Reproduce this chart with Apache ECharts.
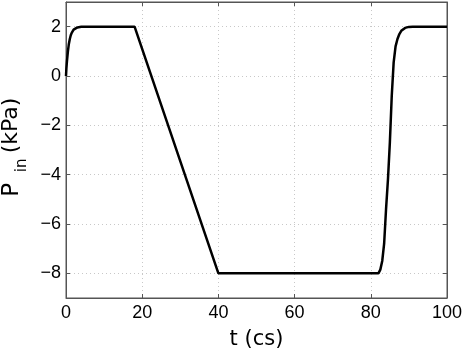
<!DOCTYPE html>
<html><head><meta charset="utf-8">
<script src="https://cdn.jsdelivr.net/npm/echarts@6/dist/echarts.min.js"></script>
<style>html,body{margin:0;padding:0;background:#fff}#c{width:464px;height:349px}</style>
</head><body><div id="c"></div>
<script>
var tData = [0, 0.1, 0.25, 0.5, 0.75, 1.0, 1.25, 1.5, 2, 2.5, 3, 3.5, 4, 5, 18, 40, 82, 82.5, 83, 83.5, 84, 84.5, 85, 85.5, 86, 86.5, 87, 87.5, 88, 88.5, 89, 89.5, 90, 91, 93, 100];
var pData = [0, 0.3, 0.6, 1.0, 1.3, 1.5, 1.65, 1.75, 1.88, 1.94, 1.97, 1.985, 1.995, 2.0, 2.0, -8, -8, -7.85, -7.5, -6.8, -5.4, -4.2, -2.7, -0.8, 0.55, 1.2, 1.5, 1.7, 1.83, 1.9, 1.95, 1.975, 1.99, 2.0, 2.0, 2.0];
var xTicks = [0, 20, 40, 60, 80, 100];
var yTicks = [-8, -6, -4, -2, 0, 2];
var pts = tData.map(function(t, i){ return [t, pData[i]]; });
var font = 'Liberation Sans, Arial, Helvetica, sans-serif';
var wfont = 'DejaVu Sans, sans-serif';
function fmt(v){ return String(v).replace('-', '\u2212'); }
var chart = echarts.init(document.getElementById('c'));
var gridStyle = {color: '#c8c8c8', type: [1, 3], width: 1};
var axisCol = '#555';
chart.setOption({
  animation: false,
  grid: {left: 66, right: 17, top: 2, bottom: 51, show: true, borderColor: axisCol, borderWidth: 1,
         containLabel: false, outerBoundsMode: 'none'},
  xAxis: [{
    type: 'value', min: 0, max: 100, interval: 20,
    name: 't (cs)', nameLocation: 'middle', nameGap: 31,
    nameTextStyle: {fontFamily: wfont, fontSize: 21, color: '#000'},
    axisLine: {show: true, onZero: false, lineStyle: {color: axisCol}},
    axisTick: {show: true, inside: true, length: 4, lineStyle: {color: axisCol}},
    axisLabel: {fontFamily: font, fontSize: 18, color: '#000', margin: 6, formatter: fmt},
    splitLine: {show: true, lineStyle: gridStyle}
  }, {
    type: 'value', min: 0, max: 100, interval: 20, position: 'top',
    axisLine: {show: true, onZero: false, lineStyle: {color: axisCol}},
    axisTick: {show: true, inside: true, length: 4, lineStyle: {color: axisCol}},
    axisLabel: {show: false}, splitLine: {show: false}
  }],
  yAxis: [{
    type: 'value', min: -9, max: 3, interval: 1,
    name: '{p|P}{s|in}{q|(kPa)}', nameLocation: 'middle', nameGap: 35, nameRotate: 90,
    nameTextStyle: {rich: {
      p: {fontFamily: wfont, fontSize: 23, color: '#000', width: 25, verticalAlign: 'top', padding: [0, 0, 6, 0]},
      s: {fontFamily: wfont, fontSize: 15, color: '#000', width: 24, verticalAlign: 'bottom'},
      q: {fontFamily: wfont, fontSize: 22, color: '#000', verticalAlign: 'top', padding: [0, 0, 6, 0]}
    }},
    axisLine: {show: true, onZero: false, lineStyle: {color: axisCol}},
    axisTick: {show: false},
    axisLabel: {fontFamily: font, fontSize: 18, color: '#000', margin: 5,
      formatter: function(v){ return yTicks.indexOf(v) >= 0 ? fmt(v) : ''; }},
    splitLine: {show: false}
  }, {
    type: 'value', min: -9, max: 3, interval: 1, position: 'right',
    axisLine: {show: true, onZero: false, lineStyle: {color: axisCol}},
    axisTick: {show: false}, axisLabel: {show: false}, splitLine: {show: false}
  }],
  series: [{
    type: 'scatter', data: [], xAxisIndex: 0, yAxisIndex: 0, z: 1,
    markLine: {silent: true, symbol: 'none', label: {show: false}, z: 1,
      lineStyle: gridStyle,
      data: yTicks.map(function(v){ return {yAxis: v}; })}
  }, {
    type: 'scatter', data: [], xAxisIndex: 0, yAxisIndex: 0, z: 1,
    markLine: {silent: true, symbol: 'none', label: {show: false}, z: 1,
      lineStyle: {color: axisCol, type: 'solid', width: 1},
      data: [].concat.apply([], yTicks.map(function(v){ return [
        [{coord: [0, v]}, {coord: [1.05, v]}],
        [{coord: [98.95, v]}, {coord: [100, v]}]
      ]; }))}
  }, {
    type: 'line', data: pts, showSymbol: false, smooth: false, z: 5,
    lineStyle: {color: '#000', width: 2.5}, xAxisIndex: 0, yAxisIndex: 0
  }]
});
</script></body></html>
